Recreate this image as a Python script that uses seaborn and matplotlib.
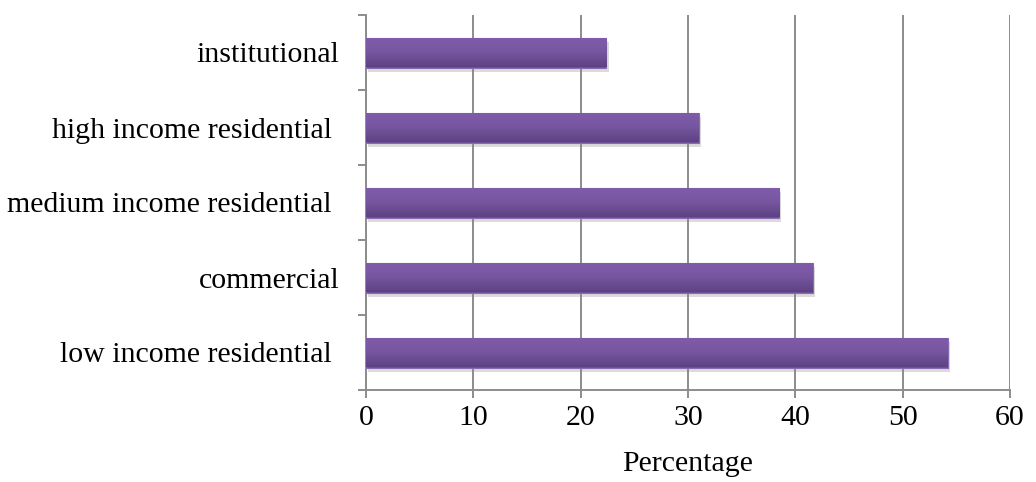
import numpy as np
import pandas as pd
import matplotlib
matplotlib.use("Agg")
import matplotlib.pyplot as plt
import matplotlib.patheffects as pe
from matplotlib.colors import LinearSegmentedColormap
from matplotlib.ticker import FixedLocator
import seaborn as sns

categories = [
    "institutional",
    "high income residential ",
    "medium income residential ",
    "commercial",
    "low income residential ",
]
percentages = [22.4, 31.0, 38.5, 41.6, 54.2]
x_ticks = [0, 10, 20, 30, 40, 50, 60]

df = pd.DataFrame({"category": categories, "percentage": percentages})

sns.set_theme(style="white")
plt.rcParams["font.family"] = ["Liberation Serif", "DejaVu Serif"]

FS = 21.5

fig = plt.figure(figsize=(10.36, 4.82), dpi=100)
ax = fig.add_axes([366 / 1036, 1 - 390 / 482, (1010 - 366) / 1036, (390 - 15) / 482])

bar_color = "#6e4f99"
sns.barplot(data=df, x="percentage", y="category", order=categories,
            color=bar_color, saturation=1, width=0.4, orient="h", ax=ax, zorder=3)

# vertical gradient fill + soft shadow for each bar
grad_cmap = LinearSegmentedColormap.from_list("bar", ["#805cab", "#7656a0", "#5d4283"])
grad = np.linspace(0, 1, 64).reshape(-1, 1)
for patch in ax.patches:
    patch.set_edgecolor("#8a6bb3")
    patch.set_linewidth(0.8)
    patch.set_path_effects([
        pe.SimplePatchShadow(offset=(1.5, -3), shadow_rgbFace="#888888", alpha=0.3),
        pe.Normal(),
    ])
    x0, y0 = patch.get_x(), patch.get_y()
    w, h = patch.get_width(), patch.get_height()
    im = ax.imshow(grad, cmap=grad_cmap, aspect="auto",
                   extent=[x0, x0 + w, y0 + h, y0], zorder=4,
                   interpolation="bicubic")
    im.set_clip_path(patch)

ax.set_xlim(0, 60)
ax.set_ylim(len(categories) - 0.5, -0.5)
ax.set_aspect("auto")

grid_color = "#8c8c8c"
ax.xaxis.set_major_locator(FixedLocator(x_ticks))
ax.grid(axis="x", color=grid_color, linewidth=1.4, zorder=0)
ax.grid(axis="y", visible=False)
ax.set_axisbelow(True)

for side in ["top", "right"]:
    ax.spines[side].set_visible(False)
for side in ["left", "bottom"]:
    ax.spines[side].set_color(grid_color)
    ax.spines[side].set_linewidth(1.4)

# category boundary ticks on the y axis
ax.yaxis.set_minor_locator(FixedLocator(np.arange(-0.5, len(categories), 1.0)))
ax.tick_params(axis="y", which="major", length=0, pad=19, labelsize=FS, labelcolor="black")
ax.tick_params(axis="y", which="minor", left=True, length=6, width=1.4, color=grid_color, direction="out")
ax.tick_params(axis="x", which="major", bottom=True, length=6, width=1.4, color=grid_color,
               direction="out", pad=5, labelsize=FS, labelcolor="black")

ax.set_ylabel("")
ax.set_xlabel("Percentage", fontsize=FS, color="black", labelpad=14)

fig.savefig("out.png", dpi=100, facecolor="white")
